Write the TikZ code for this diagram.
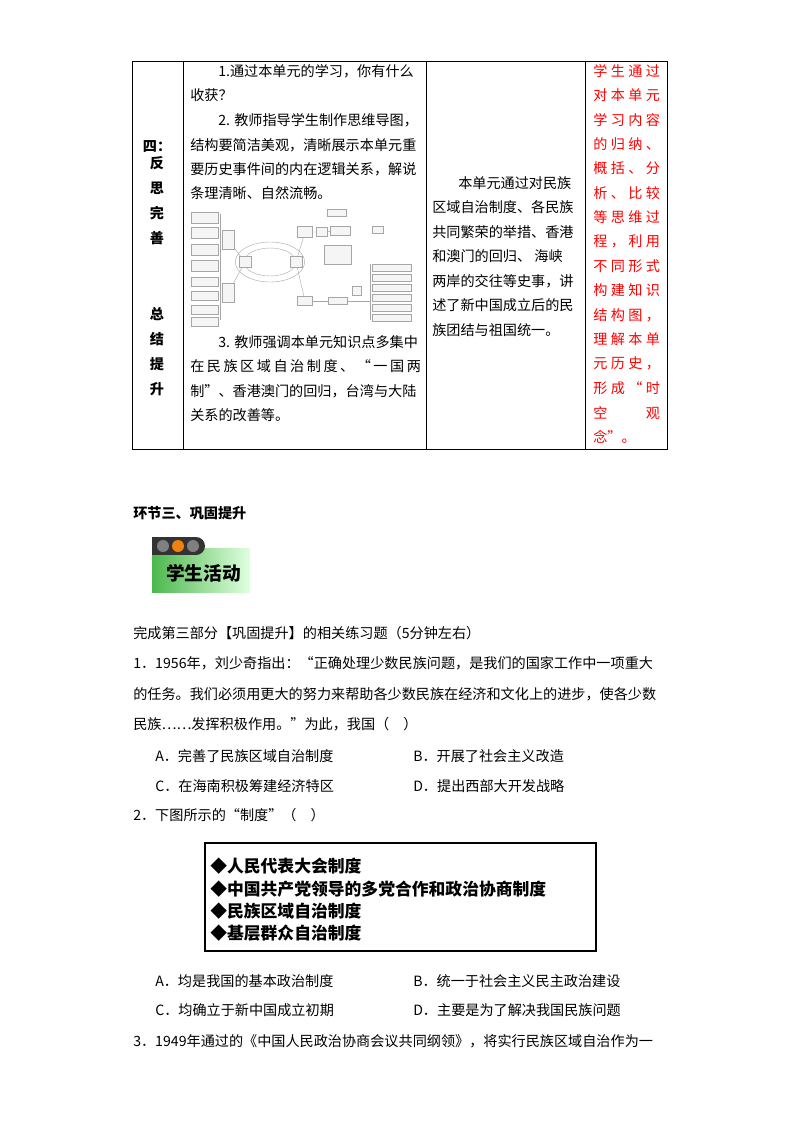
\documentclass[tikz,border=0pt]{standalone}
\usepackage{fontspec}
\setmainfont{Noto Sans CJK SC}
\newcommand{\spr}[2]{\hbox to #1{#2}}
\begin{document}
\begin{tikzpicture}[x=0.75pt,y=-0.75pt,
  tx/.style={anchor=west,inner sep=0pt,font=\fontsize{10.6pt}{12pt}\selectfont},
  rd/.style={tx,text=red},
  bd/.style={anchor=center,inner sep=0pt,font=\fontsize{10.6pt}{12pt}\selectfont\bfseries},
  bx/.style={anchor=west,inner sep=0pt,font=\fontsize{12.6pt}{14pt}\selectfont\bfseries},
  mm/.style={draw=black!35,line width=0.3pt,fill=black!4,inner sep=0pt},
  ml/.style={draw=black!35,line width=0.3pt}]
\useasboundingbox (0,0) rectangle (800,1132);
\fill[white] (0,0) rectangle (800,1132);
% table
\draw[line width=0.6pt] (132,61) rectangle (667,449);
\foreach \x in {183,426,585} \draw[line width=0.6pt] (\x,61) -- (\x,449);
% col1
\node[bd] (c1a) at (157,146) {四：};
\foreach \c [count=\i] in {反,思,完,善} \node[bd] (c1b\i) at (157,138+\i*25) {\c};
\foreach \c [count=\i] in {总,结,提,升} \node[bd] (c1c\i) at (157,289+\i*25) {\c};
% col2
\node[tx] (a1) at (218,71) {1.通过本单元的学习，你有什么};
\node[tx] (a2) at (190,95) {收获？};
\node[tx] (a3) at (218,120) {2. 教师指导学生制作思维导图，};
\node[tx] (a4) at (190,145) {结构要简洁美观，清晰展示本单元重};
\node[tx] (a5) at (190,169) {要历史事件间的内在逻辑关系，解说};
\node[tx] (a6) at (190,193) {条理清晰、自然流畅。};
\node[tx] (a7) at (218,342) {3. 教师强调本单元知识点多集中};
\node[tx] (a8) at (190,366) {\spr{173pt}{在\hfill 民\hfill 族\hfill 区\hfill 域\hfill 自\hfill 治\hfill 制\hfill 度\hfill 、\hfill “\hfill 一\hfill 国\hfill 两}};
\node[tx] (a9) at (190,391) {制”、香港澳门的回归，台湾与大陆};
\node[tx] (a10) at (190,415) {关系的改善等。};
% mind map thumbnail
\draw[ml] (270,262) ellipse (26pt and 15pt);
\draw[ml] (270,262) ellipse (19.5pt and 10.5pt);
\node[mm,minimum width=9pt,minimum height=8pt] (ml1) at (245,262) {};
\node[mm,minimum width=9pt,minimum height=8pt] (mr1) at (296,262) {};
\node[mm,minimum width=9pt,minimum height=14pt] (ml2) at (228,240) {};
\node[mm,minimum width=9pt,minimum height=14pt] (ml3) at (228,293) {};
\draw[ml] (ml1) -- (ml2); \draw[ml] (ml1) -- (ml3);
\foreach \y in {218,233,250,266} {\node[mm,minimum width=20pt,minimum height=8pt] at (205,\y) {};}
\foreach \y in {282,296,310,322} {\node[mm,minimum width=20pt,minimum height=7pt] at (205,\y) {};}
\draw[ml] (220,214) -- (220,320);
\node[mm,minimum width=11pt,minimum height=8pt] (mr2) at (305,232) {};
\node[mm,minimum width=11pt,minimum height=7pt] (mr3) at (305,301) {};
\draw[ml] (mr1) -- (mr2); \draw[ml] (mr1) -- (mr3);
\node[mm,minimum width=8pt,minimum height=7pt] (mr4) at (322,232) {};
\node[mm,minimum width=14pt,minimum height=5.5pt] at (337,213) {};
\node[mm,minimum width=15pt,minimum height=7pt] (mr6) at (340,231) {};
\node[mm,minimum width=8pt,minimum height=5.5pt] at (378,230) {};
\node[mm,minimum width=20pt,minimum height=14pt] at (338,255) {};
\node[mm,minimum width=14pt,minimum height=5.5pt] (mr7) at (338,301) {};
\node[mm,minimum width=7pt,minimum height=7pt] at (357,291) {};
\foreach \y in {268,278,288,298,308,318} {\node[mm,minimum width=29pt,minimum height=5.5pt] at (392,\y) {};}
\draw[ml] (370,264) -- (370,320);
\draw[ml] (mr2) -- (mr4) -- (mr6);
\draw[ml] (mr3) -- (mr7) -- (370,301);
% col3
\node[tx] (b1) at (458,183) {本单元通过对民族};
\node[tx] (b2) at (432,207) {区域自治制度、各民族};
\node[tx] (b3) at (432,232) {共同繁荣的举措、香港};
\node[tx] (b4) at (432,256) {和澳门的回归、\ 海峡};
\node[tx] (b5) at (432,281) {两岸的交往等史事，讲};
\node[tx] (b6) at (432,305) {述了新中国成立后的民};
\node[tx] (b7) at (432,330) {族团结与祖国统一。};
% col4
\foreach \t [count=\i] in {学\hfill 生\hfill 通\hfill 过,对\hfill 本\hfill 单\hfill 元,学\hfill 习\hfill 内\hfill 容,的\hfill 归\hfill 纳\hfill 、,概\hfill 括\hfill 、\hfill 分,析\hfill 、\hfill 比\hfill 较,等\hfill 思\hfill 维\hfill 过,程\hfill ，\hfill 利\hfill 用,不\hfill 同\hfill 形\hfill 式,构\hfill 建\hfill 知\hfill 识,结\hfill 构\hfill 图\hfill ，,理\hfill 解\hfill 本\hfill 单,元\hfill 历\hfill 史\hfill ，,形\hfill 成\hfill “\hfill 时,空\hfill 观}
  \node[rd] (r\i) at (593,46.6+\i*24.4) {\spr{50pt}{\t}};
\node[rd] (r16) at (593,437) {念”。};
% section
\node[tx,font=\fontsize{10.6pt}{12pt}\selectfont\bfseries] (s3) at (133,513) {环节三、巩固提升};
\shade[left color=green!60!black!70!white,right color=green!12] (152,548) rectangle (250,592);
\fill[black!80] (152,537) rectangle (196,555);
\fill[black!80] (196,546) circle (6.75pt);
\fill[black!50] (163,546) circle (4.5pt);
\fill[orange!80!brown] (178,546) circle (4.5pt);
\fill[black!50] (193,546) circle (4.5pt);
\node[bx,font=\fontsize{14pt}{16pt}\selectfont\bfseries] (act) at (166,573) {学生活动};
% questions
\node[tx] (q0) at (133,633) {完成第三部分【巩固提升】的相关练习题（5分钟左右）};
\node[tx] (q1) at (133,663) {1．1956年，刘少奇指出：“正确处理少数民族问题，是我们的国家工作中一项重大};
\node[tx] (q1b) at (133,694) {的任务。我们必须用更大的努力来帮助各少数民族在经济和文化上的进步，使各少数};
\node[tx] (q1c) at (133,724) {民族……发挥积极作用。”为此，我国（\quad）};
\node[tx] (o1a) at (155,756) {A．完善了民族区域自治制度};
\node[tx] (o1b) at (413,756) {B．开展了社会主义改造};
\node[tx] (o1c) at (155,786) {C．在海南积极筹建经济特区};
\node[tx] (o1d) at (413,786) {D．提出西部大开发战略};
\node[tx] (q2) at (133,815) {2．下图所示的“制度”（\quad）};
\draw[line width=1.6pt] (205,843) rectangle (596,951);
\node[bx] (p1) at (210,866) {◆人民代表大会制度};
\node[bx] (p2) at (210,889) {◆中国共产党领导的多党合作和政治协商制度};
\node[bx] (p3) at (210,911) {◆民族区域自治制度};
\node[bx] (p4) at (210,933) {◆基层群众自治制度};
\node[tx] (o2a) at (155,981) {A．均是我国的基本政治制度};
\node[tx] (o2b) at (413,981) {B．统一于社会主义民主政治建设};
\node[tx] (o2c) at (155,1010) {C．均确立于新中国成立初期};
\node[tx] (o2d) at (413,1010) {D．主要是为了解决我国民族问题};
\node[tx] (q3) at (133,1041) {3．1949年通过的《中国人民政治协商会议共同纲领》，将实行民族区域自治作为一};
\end{tikzpicture}
\end{document}
